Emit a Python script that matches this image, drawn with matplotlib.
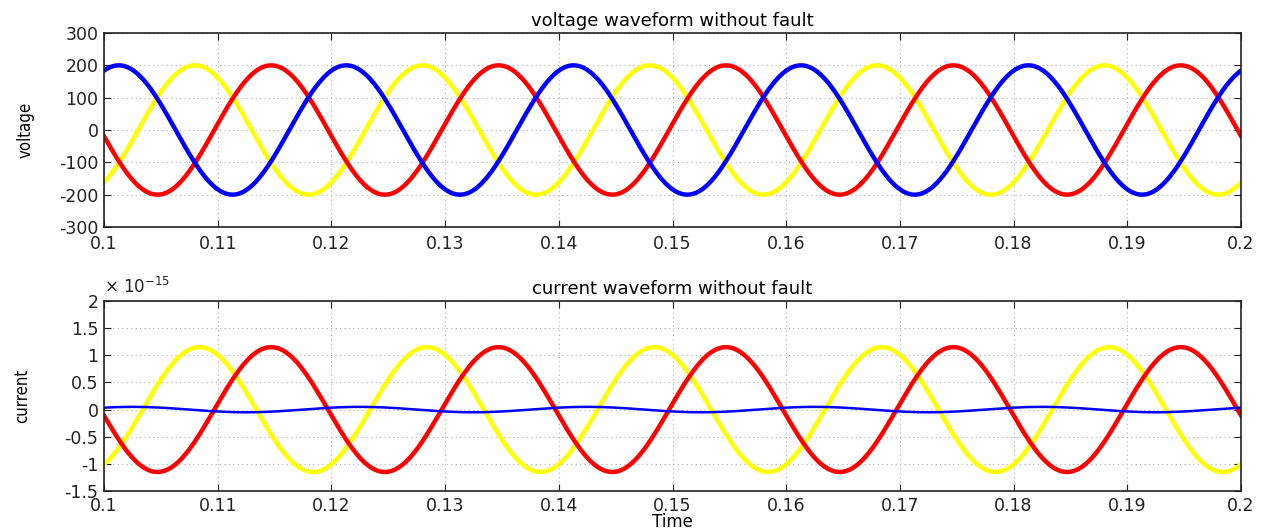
import numpy as np
import matplotlib
matplotlib.use("Agg")
from matplotlib import pyplot as plt

# values: 50 Hz three-phase waveforms
t_start, t_end = 0.1, 0.2
freq_hz = 50
phase_colors = ["#ffff00", "#ff0000", "#0000ff"]

voltage_peak = [200, 200, 200]
voltage_peak_time = [0.1080, 0.1147, 0.1013]

current_scale = 1e-15
current_peak = [1.15e-15, 1.15e-15, 0.05e-15]
current_peak_time = [0.1084, 0.1147, 0.1025]
current_widths = [3.2, 3.2, 1.8]

x_ticks = [0.1, 0.11, 0.12, 0.13, 0.14, 0.15, 0.16, 0.17, 0.18, 0.19, 0.2]
x_labels = ["0.1", "0.11", "0.12", "0.13", "0.14", "0.15", "0.16", "0.17", "0.18", "0.19", "0.2"]
v_ticks = [-300, -200, -100, 0, 100, 200, 300]
v_labels = ["-300", "-200", "-100", "0", "100", "200", "300"]
i_ticks = [-1.5, -1, -0.5, 0, 0.5, 1, 1.5, 2]
i_labels = ["-1.5", "-1", "-0.5", "0", "0.5", "1", "1.5", "2"]

plt.rcParams["font.family"] = ["DejaVu Sans"]
t = np.linspace(t_start, t_end, 2000)

fig = plt.figure(figsize=(12.65, 5.31), dpi=100)
ax1 = fig.add_axes([104 / 1265, 1 - 227 / 531, 1137 / 1265, 194 / 531])
ax2 = fig.add_axes([104 / 1265, 1 - 491 / 531, 1137 / 1265, 190 / 531])


def style_axes(ax, xpad):
    ax.set_xlim(t_start, t_end)
    ax.set_xticks(x_ticks)
    ax.set_xticklabels(x_labels)
    ax.tick_params(direction="in", top=True, right=True, labelsize=12.5, length=5,
                   colors="#222222")
    ax.tick_params(axis="x", pad=xpad)
    ax.tick_params(axis="y", pad=4)
    ax.grid(True, linestyle=(0, (1, 3)), color="#b0b0b0", linewidth=0.8)
    for s in ax.spines.values():
        s.set_linewidth(1.2)
        s.set_color("#222222")


for amp, tp, c in zip(voltage_peak, voltage_peak_time, phase_colors):
    ax1.plot(t, amp * np.cos(2 * np.pi * freq_hz * (t - tp)), color=c, linewidth=3.2)
style_axes(ax1, 6)
ax1.set_ylim(-300, 300)
ax1.set_yticks(v_ticks)
ax1.set_yticklabels(v_labels)
ax1.set_title("voltage waveform without fault", fontsize=13, pad=5)
ax1.set_ylabel("voltage", fontsize=12, fontstretch="condensed", labelpad=18)

# current is tiny, plot in units of 1e-15 and show the multiplier above the axis
for amp, tp, c, lw in zip(current_peak, current_peak_time, phase_colors, current_widths):
    y = amp * np.cos(2 * np.pi * freq_hz * (t - tp))
    ax2.plot(t, y / current_scale, color=c, linewidth=lw)
style_axes(ax2, 4)
ax2.set_ylim(-1.5, 2)
ax2.set_yticks(i_ticks)
ax2.set_yticklabels(i_labels)
ax2.text(0.0, 1.02, r"$\times\ 10^{-15}$", transform=ax2.transAxes, fontsize=12,
         ha="left", va="bottom", color="#222222")
ax2.set_title("current waveform without fault", fontsize=13, pad=5)
ax2.set_ylabel("current", fontsize=12, fontstretch="condensed", labelpad=24)
ax2.set_xlabel("Time", fontsize=12)
ax2.xaxis.set_label_coords(0.5, -22 / 190)

fig.savefig("out.png", dpi=100)
plt.close()
